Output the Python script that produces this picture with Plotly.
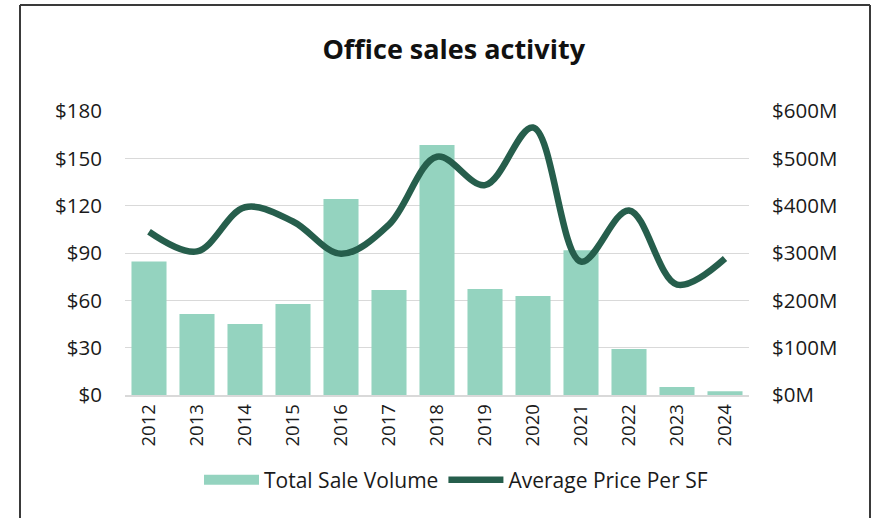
import plotly.graph_objects as go

years = ["2012", "2013", "2014", "2015", "2016", "2017", "2018",
         "2019", "2020", "2021", "2022", "2023", "2024"]
# total sale volume, $M (right axis)
sale_volume = [282, 171, 150, 192, 414, 222, 528, 224, 209, 306, 97, 17, 8]
# average price per SF, $ (left axis)
price_per_sf = [103.5, 91, 119, 110, 89.5, 108, 151, 133, 169.5, 84.5, 117, 70, 86.5]

BAR = "#94d3bf"
LINE = "#265e4c"
GRID = "#d9d9d9"
FONT = "Open Sans"

L, R, T, B = 125, 133, 111, 123
W, H = 882, 518
pw, ph = W - L - R, H - T - B


def px(x):
    return (x - L) / pw


def py(y):
    return (H - B - y) / ph


fig = go.Figure()
fig.add_trace(go.Bar(x=years, y=sale_volume, marker=dict(color=BAR, line=dict(width=0)),
                     name="Total Sale Volume", showlegend=False, yaxis="y"))
fig.add_trace(go.Scatter(x=years, y=price_per_sf, mode="lines", yaxis="y2",
                         line=dict(color=LINE, width=6.5, shape="spline", smoothing=1.0),
                         name="Average Price Per SF", showlegend=False))
# legend stand-ins (wide swatches like the original)
fig.add_trace(go.Scatter(x=[None], y=[None], mode="lines", name="Total Sale Volume",
                         line=dict(color=BAR, width=14)))
fig.add_trace(go.Scatter(x=[None], y=[None], mode="lines", name="Average Price Per SF",
                         line=dict(color=LINE, width=6.5)))

# outer frame
for x0, y0, x1, y1 in [(20, 5, 20, 530), (20, 5, 870, 5), (870, 5, 870, 530)]:
    fig.add_shape(type="line", xref="paper", yref="paper",
                  x0=px(x0), y0=py(y0), x1=px(x1), y1=py(y1),
                  line=dict(color="#3a3a3a", width=2))

fig.update_layout(
    width=W, height=H,
    margin=dict(l=L, r=R, t=T, b=B),
    paper_bgcolor="white", plot_bgcolor="white",
    font=dict(family=FONT, size=20.5, color="#1a1a1a"),
    title=dict(text="<b>Office sales activity</b>", x=px(446), xanchor="center",
               y=1 - 50 / H, yanchor="middle", font=dict(size=27, color="#111111")),
    bargap=0.27,
    xaxis=dict(type="category", tickangle=-90, tickfont=dict(size=18.5),
               showline=True, linecolor=GRID, linewidth=1.5, ticks="", showgrid=False),
    yaxis=dict(side="right", range=[0, 600], dtick=100, tickprefix="$", ticksuffix="M",
               showgrid=True, gridcolor=GRID, gridwidth=1, zeroline=False,
               ticklabelstandoff=22),
    yaxis2=dict(side="left", overlaying="y", range=[0, 180], dtick=30, tickprefix="$",
                showgrid=False, zeroline=False, ticklabelstandoff=22),
    legend=dict(orientation="h", x=px(456), xanchor="center", y=py(480), yanchor="middle",
                font=dict(size=21), itemwidth=55, traceorder="normal"),
)

fig.write_html("out.html", config={"displayModeBar": False},
               post_script="document.body.style.margin='0px';")
